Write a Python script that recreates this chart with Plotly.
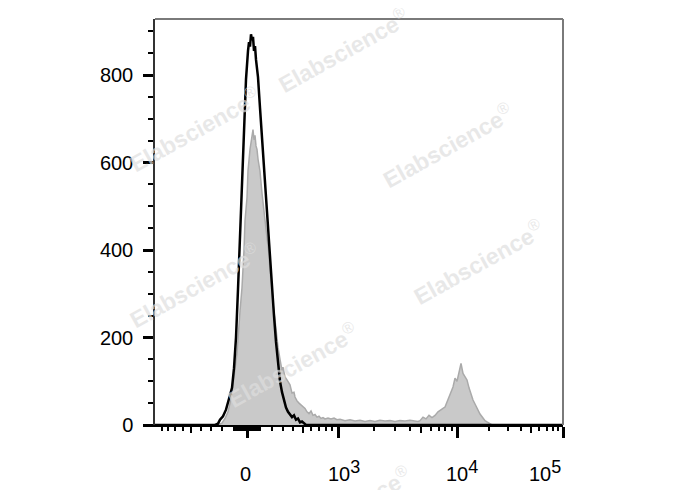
import numpy as np
import plotly.graph_objects as go

# ---- data (x in display channels of the biexponential axis, y in cell counts) ----
ctrl_x = [0, 60, 63, 65, 68, 71, 74, 77, 79, 81, 83, 85, 87, 89, 91, 93, 94, 95, 96, 97, 98, 99,
          100, 101, 102, 103, 105, 107, 109, 111, 113, 115, 117, 119, 121, 123, 125, 127, 129,
          131, 133, 135, 137, 139, 141, 143, 145, 147, 149, 151, 408]
ctrl_y = [0, 0, 3, 12, 20, 35, 60, 85, 130, 200, 310, 420, 540, 680, 790, 855, 875, 865, 893, 880,
          887, 855, 866, 835, 815, 795, 725, 655, 585, 505, 437, 378, 313, 250, 190, 140, 100, 75,
          55, 40, 30, 25, 18, 22, 12, 15, 6, 8, 3, 0, 0]

stain_x = [0, 63, 67, 70, 73, 76, 79, 82, 85, 87, 89, 90, 92, 93, 95, 97, 98, 99, 100, 101, 102,
           103, 105, 107, 108, 110, 112, 114, 115, 117, 118, 120, 121, 123, 125, 127, 128, 130,
           132, 134, 135, 137, 139, 140, 142, 144, 146, 148, 150, 152, 154, 156, 158, 160, 162,
           164, 166, 168, 170, 173, 176, 179, 182, 185, 190, 195, 200, 205, 210, 215, 220, 225,
           230, 235, 240, 245, 250, 255, 260, 263, 265, 268, 271, 274, 277, 280, 283, 285, 288,
           290, 293, 295, 298, 300, 302, 304, 306, 308, 310, 312, 314, 316, 318, 320, 323, 325,
           328, 330, 332, 335, 337, 408]
stain_y = [0, 0, 4, 15, 30, 60, 110, 165, 260, 314, 400, 467, 520, 581, 630, 668, 675, 652, 662,
           638, 630, 608, 580, 530, 506, 470, 428, 390, 353, 310, 278, 240, 215, 178, 150, 125,
           132, 110, 103, 96, 92, 73, 75, 64, 55, 50, 46, 41, 38, 30, 26, 32, 22, 24, 18, 20, 15,
           17, 14, 16, 14, 16, 12, 13, 10, 12, 9, 11, 8, 10, 8, 11, 9, 10, 8, 10, 9, 11, 10, 8,
           10, 18, 14, 22, 17, 22, 30, 34, 38, 41, 58, 73, 87, 107, 100, 120, 141, 118, 110, 103,
           85, 68, 57, 48, 34, 25, 16, 10, 7, 3, 0, 0]

major_vals = [0, 1e3, 1e4, 1e5]
medium_vals = [-500, 500, 5e3, 5e4]
minor_vals = ([-900, -800, -700, -600, -400, -300, -200, -100]
              + [-90, -80, -70, -60, -50, -40, -30, -20, -10, 10, 20, 30, 40, 50, 60, 70, 80, 90]
              + [100, 200, 300, 400, 600, 700, 800, 900]
              + [2e3, 3e3, 4e3, 6e3, 7e3, 8e3, 9e3]
              + [2e4, 3e4, 4e4, 6e4, 7e4, 8e4, 9e4])
x_label_base = ["0", "10", "10", "10"]
x_label_exp = ["", "3", "4", "5"]
x_label_pos = [0.2206, 0.463, 0.7525, 0.956]
y_ticks = [0, 200, 400, 600, 800]


def disp(v):
    """biexponential-like display transform (value -> display channel)."""
    v = np.asarray(v, dtype=float)
    lin = 92 + 91 * np.arcsinh(v / 500.0) / np.arcsinh(2.0)
    lg = np.interp(np.log10(np.maximum(np.abs(v), 1.0)), [3, 4, 5], [183, 302, 408])
    return np.where(np.abs(v) < 1000, lin, lg).tolist()


FONT = "Arial, Liberation Sans, Helvetica, sans-serif"

fig = go.Figure()
fig.add_trace(go.Scatter(x=stain_x, y=stain_y, mode="lines", fill="tozeroy",
                         fillcolor="rgb(201,201,201)",
                         line=dict(color="rgb(170,170,170)", width=1.5),
                         showlegend=False, hoverinfo="skip"))
fig.add_trace(go.Scatter(x=ctrl_x, y=ctrl_y, mode="lines",
                         line=dict(color="black", width=2.5),
                         showlegend=False, hoverinfo="skip"))
# empty trace so the overlaid tick axis (medium ticks) is drawn
fig.add_trace(go.Scatter(x=[], y=[], xaxis="x2", yaxis="y", showlegend=False))

fig.update_layout(
    width=680, height=482,
    margin=dict(l=147, r=125, t=11, b=65),
    paper_bgcolor="white", plot_bgcolor="white",
    font=dict(family=FONT, size=20, color="black"),
    xaxis=dict(range=[0, 408], showgrid=False, zeroline=False,
               showline=True, linecolor="black", linewidth=2,
               ticks="outside", tickvals=disp(major_vals), ticklen=11, tickwidth=2.5,
               tickcolor="black", showticklabels=False,
               minor=dict(tickvals=disp(minor_vals), ticks="outside", ticklen=4,
                          tickwidth=1.5, tickcolor="black", showgrid=False)),
    xaxis2=dict(range=[0, 408], overlaying="x", anchor="y", side="bottom",
                showgrid=False, zeroline=False, showline=False,
                ticks="outside", tickvals=disp(medium_vals), ticklen=7, tickwidth=2,
                tickcolor="black", showticklabels=False),
    yaxis=dict(range=[0, 928], showgrid=False, zeroline=False,
               showline=True, linecolor="#333333", linewidth=1.5,
               ticks="outside", tickvals=y_ticks, ticklen=10, tickwidth=2.5,
               tickcolor="black", ticklabelstandoff=6,
               tickfont=dict(family=FONT, size=20, color="black"),
               minor=dict(dtick=50, tick0=0, ticks="outside", ticklen=5,
                          tickwidth=1.5, tickcolor="black", showgrid=False)),
    shapes=[
        dict(type="line", xref="paper", yref="paper", x0=0, x1=1, y0=1, y1=1,
             line=dict(color="#7a7a7a", width=2)),
        dict(type="line", xref="paper", yref="paper", x0=1, x1=1, y0=0, y1=1,
             line=dict(color="#7a7a7a", width=2)),
    ],
)

annotations = []
for base, exp, xp in zip(x_label_base, x_label_exp, x_label_pos):
    txt = base if not exp else base + "<sup><span style='font-size:18px'>" + exp + "</span></sup>"
    annotations.append(dict(text=txt, x=xp, y=-0.152, xref="paper", yref="paper",
                            xanchor="center", yanchor="bottom", showarrow=False,
                            font=dict(family=FONT, size=20, color="black")))

wm_pos = [(0.461, 0.923), (0.098, 0.729), (0.718, 0.690), (0.098, 0.345),
          (0.792, 0.401), (0.336, 0.148), (0.468, -0.204)]
for xp, yp in wm_pos:
    annotations.append(dict(text="<b>Elabscience</b><sup>®</sup>", x=xp, y=yp,
                            xref="paper", yref="paper", xanchor="center", yanchor="middle",
                            textangle=-29, showarrow=False,
                            font=dict(family=FONT, size=23, color="rgba(222,222,222,0.69)")))
fig.update_layout(annotations=annotations)

fig.write_html("out.html")
